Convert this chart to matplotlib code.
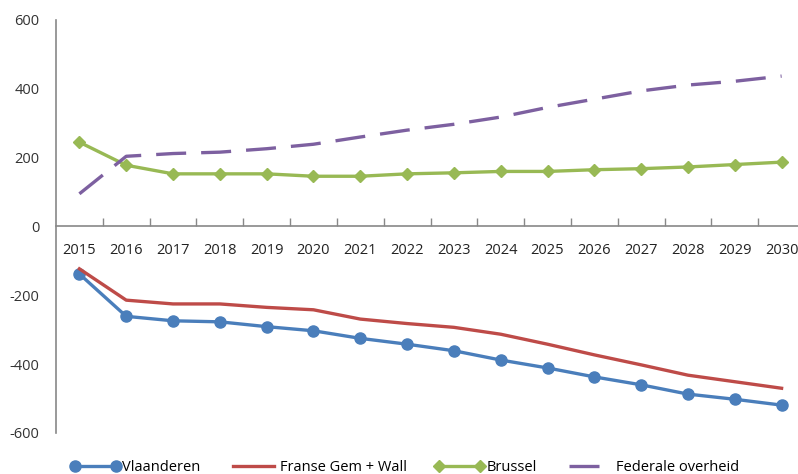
"""
Recreate the line chart of regional balances 2015-2030
"""
import matplotlib
matplotlib.use("Agg")
import matplotlib.pyplot as plt
from matplotlib.ticker import FixedLocator

years = [str(y) for y in range(2015, 2031)]

vlaanderen = [-138, -261, -274, -277, -291, -303, -325, -342, -361, -388,
              -411, -437, -460, -487, -502, -519]
franse_gem_wall = [-123, -214, -225, -225, -235, -242, -269, -282, -293, -313,
                   -342, -373, -402, -432, -451, -470]
brussel = [245, 178, 153, 153, 153, 146, 146, 153, 156, 160,
           160, 165, 168, 173, 180, 187]
federale = [95, 204, 212, 216, 226, 239, 260, 280, 297, 318,
            346, 370, 394, 411, 422, 437]

labels = ["Vlaanderen", "Franse Gem + Wall", "Brussel", "Federale overheid"]
yticks = [-600, -400, -200, 0, 200, 400, 600]

plt.rcParams['font.family'] = ['Open Sans', 'DejaVu Sans']

fig = plt.figure(figsize=(7.98, 4.74), dpi=100)
ax = fig.add_axes([56 / 798, 41 / 474, 749 / 798, 413 / 474])

x = list(range(len(years)))
ax.plot(x, vlaanderen, color="#4A7EBB", lw=2.4, marker="o", markersize=8,
        label=labels[0], zorder=3)
ax.plot(x, franse_gem_wall, color="#BE4B48", lw=2.4, label=labels[1], zorder=3)
ax.plot(x, brussel, color="#98B954", lw=2.4, marker="D", markersize=6,
        label=labels[2], zorder=3)
ax.plot(x, federale, color="#7D60A0", lw=2.4, dashes=(9, 4.5),
        label=labels[3], zorder=3)

ax.set_xlim(-0.5, len(years) - 0.5)
ax.set_ylim(-600, 600)
ax.set_yticks(yticks)
ax.set_yticklabels([str(v) for v in yticks])
ax.tick_params(axis="y", length=0, pad=12, labelsize=10.5, colors="#333333")

ax.set_xticks(x)
ax.set_xticklabels(years)
ax.xaxis.set_minor_locator(FixedLocator([i + 0.5 for i in x[:-1]]))
ax.tick_params(axis="x", which="major", length=0, pad=12, labelsize=10.5,
               colors="#222222")
ax.tick_params(axis="x", which="minor", direction="in", length=6,
               color="#888888", width=1)

for side in ("top", "right"):
    ax.spines[side].set_visible(False)
ax.spines["bottom"].set_position(("data", 0))
ax.spines["bottom"].set_color("#888888")
ax.spines["left"].set_color("#888888")
ax.spines["bottom"].set_linewidth(1.2)
ax.spines["left"].set_linewidth(1.2)

fig.legend(loc="lower left", bbox_to_anchor=(0.072, -0.03), ncol=4,
           frameon=False, fontsize=10.5, handlelength=3.4, columnspacing=1.9,
           handletextpad=0.15, numpoints=2)

fig.savefig("out.png", dpi=100)
